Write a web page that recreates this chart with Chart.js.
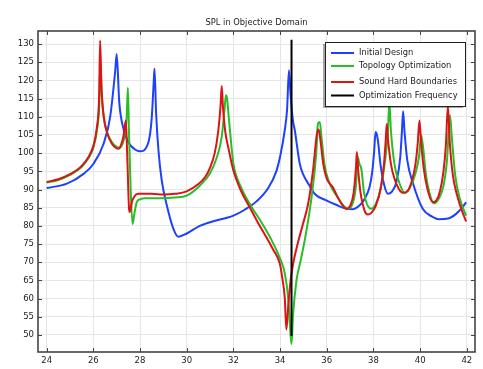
<!DOCTYPE html>
<html>
<head>
<meta charset="utf-8">
<script src="https://cdn.jsdelivr.net/npm/chart.js@4"></script>
<style>
  html, body { margin: 0; padding: 0; background: #ffffff; }
  #wrap { width: 483px; height: 369px; }
</style>
</head>
<body>
<div id="wrap"><canvas id="chart" width="483" height="369"></canvas></div>
<script>
const chartTitle = 'SPL in Objective Domain';
const seriesNames = ['Initial Design', 'Topology Optimization', 'Sound Hard Boundaries', 'Optimization Frequency'];
const seriesColors = ['rgb(30, 64, 255)', 'rgb(40, 190, 40)', 'rgb(220, 20, 20)', 'rgb(0, 0, 0)'];
const xTicks = [24, 26, 28, 30, 32, 34, 36, 38, 40, 42];
const yTicks = [50, 55, 60, 65, 70, 75, 80, 85, 90, 95, 100, 105, 110, 115, 120, 125, 130];

// Initial Design
const initialX = [24.0, 24.87, 25.58, 26.01, 26.44, 26.72, 26.94, 27.0, 27.11, 27.29, 27.5, 27.79, 28.0, 28.36, 28.5, 28.58, 28.62,
  28.69, 28.79, 28.93, 29.15, 29.43, 29.65, 30.0, 30.5, 31.0, 32.0, 32.5, 33.0, 33.5, 33.85, 34.0, 34.2, 34.3, 34.38, 34.45,
  34.55, 34.63, 34.84, 35.0, 35.27, 35.5, 35.98, 36.4, 36.84, 37.1, 37.4, 37.6, 37.83, 37.95, 38.03, 38.09, 38.15, 38.2, 38.3,
  38.45, 38.62, 38.8, 39.0, 39.15, 39.22, 39.27, 39.33, 39.45, 39.68, 40.11, 40.5, 40.8, 41.2, 41.54, 41.8, 41.97];
const initialY = [90.4, 91.6, 94.3, 97.1, 102.6, 109.9, 122.8, 127.3, 114.1, 106.7, 103.0, 101.0, 100.5, 103.0, 109.5, 118.7, 123.3,
  110.9, 100.8, 92.5, 85.6, 79.2, 77.0, 77.9, 79.8, 81.0, 82.8, 84.5, 86.8, 90.5, 95.2, 99.0, 106.3, 112.0, 122.8, 116.0,
  109.0, 106.3, 97.2, 94.0, 91.0, 88.7, 87.0, 85.8, 84.7, 84.6, 85.6, 87.2, 90.6, 95.0, 100.5, 105.8, 105.0, 103.0, 97.0,
  91.5, 88.8, 89.5, 92.5, 99.0, 106.0, 111.5, 106.0, 98.0, 92.0, 84.7, 82.6, 81.8, 82.0, 83.3, 85.0, 86.5];

// Topology Optimization
const topologyX = [24.0, 24.5, 25.0, 25.5, 25.8, 26.0, 26.15, 26.25, 26.3, 26.36, 26.45, 26.6, 26.8, 27.0, 27.12, 27.25, 27.35,
  27.43, 27.48, 27.53, 27.6, 27.68, 27.75, 27.86, 28.0, 28.22, 28.8, 29.5, 30.0, 30.57, 31.0, 31.3, 31.5, 31.62, 31.68, 31.73,
  31.8, 31.9, 32.0, 32.3, 32.8, 33.2, 33.6, 34.0, 34.2, 34.35, 34.45, 34.49, 34.55, 34.7, 34.9, 35.13, 35.35, 35.55, 35.62, 35.7,
  35.78, 35.9, 36.1, 36.4, 36.9, 37.1, 37.25, 37.33, 37.4, 37.48, 37.6, 37.9, 38.1, 38.3, 38.5, 38.62, 38.68, 38.75, 38.9, 39.1,
  39.35, 39.6, 39.8, 39.95, 40.04, 40.12, 40.25, 40.4, 40.6, 40.8, 41.0, 41.15, 41.28, 41.35, 41.5, 41.7, 41.97];
const topologyY = [91.9, 92.6, 94.0, 96.2, 98.7, 101.5, 106.0, 113.0, 125.0, 116.0, 109.5, 105.5, 103.0, 101.7, 101.5, 102.5, 105.0,
  110.0, 118.0, 105.0, 90.0, 80.5, 83.0, 86.5, 87.3, 87.6, 87.6, 87.8, 88.3, 91.1, 94.5, 99.0, 104.5, 112.0, 115.9, 115.0,
  110.0, 103.0, 97.1, 91.0, 85.0, 81.0, 76.5, 71.0, 67.0, 60.0, 50.0, 47.5, 55.0, 64.9, 71.0, 78.7, 88.0, 100.0, 108.1, 108.6,
  104.0, 97.0, 92.0, 88.5, 84.7, 86.0, 91.0, 98.9, 97.0, 95.7, 89.0, 84.7, 86.0, 90.0, 98.0, 106.0, 114.0, 106.0, 97.0, 92.0,
  89.0, 91.0, 94.5, 99.0, 104.9, 102.0, 94.0, 89.0, 86.2, 87.5, 91.0, 98.0, 110.4, 105.0, 94.0, 87.5, 82.8];

// Sound Hard Boundaries
const hardX = [24.0, 24.5, 25.0, 25.5, 25.8, 26.0, 26.15, 26.25, 26.29, 26.35, 26.45, 26.6, 26.8, 27.0, 27.08, 27.2, 27.3, 27.39,
  27.45, 27.53, 27.56, 27.65, 27.75, 27.93, 28.5, 29.0, 29.5, 30.0, 30.5, 30.8, 31.0, 31.2, 31.35, 31.45, 31.5, 31.55, 31.65,
  31.8, 32.0, 32.3, 32.7, 33.0, 33.42, 33.7, 33.99, 34.1, 34.2, 34.27, 34.35, 34.45, 34.56, 34.75, 34.98, 35.2, 35.41, 35.58,
  35.65, 35.72, 35.85, 36.0, 36.26, 36.5, 36.84, 37.0, 37.15, 37.25, 37.29, 37.35, 37.45, 37.62, 37.76, 37.9, 38.1, 38.3, 38.45,
  38.53, 38.57, 38.62, 38.75, 38.9, 39.1, 39.26, 39.45, 39.65, 39.8, 39.9, 39.97, 40.04, 40.15, 40.3, 40.54, 40.7, 40.85, 41.0,
  41.1, 41.19, 41.27, 41.4, 41.6, 41.8, 41.97];
const hardY = [92.1, 92.8, 94.2, 96.5, 99.0, 102.0, 107.0, 116.0, 131.0, 118.0, 110.0, 105.5, 102.5, 101.3, 101.2, 102.5, 105.0, 109.0,
  100.0, 84.7, 83.8, 86.5, 88.0, 88.8, 88.8, 88.6, 88.8, 89.5, 91.5, 93.5, 96.0, 100.0, 106.0, 113.0, 118.5, 113.0, 106.0,
  101.0, 95.2, 90.0, 85.1, 81.5, 76.8, 73.5, 69.6, 65.5, 60.3, 51.5, 58.0, 65.0, 69.6, 75.0, 80.5, 86.0, 95.2, 105.4,
  106.5, 104.0, 97.0, 93.0, 90.6, 87.5, 84.7, 85.5, 89.0, 96.0, 100.3, 95.0, 89.0, 84.2, 83.1, 83.5, 85.5, 90.0, 97.0,
  104.0, 108.0, 104.0, 97.0, 93.0, 90.0, 89.1, 89.5, 92.5, 97.0, 103.0, 109.0, 103.0, 96.0, 90.5, 86.5, 87.0, 89.5, 95.0,
  102.0, 113.0, 103.0, 94.0, 88.0, 84.0, 81.2];

// Optimization Frequency marker
const markerX = [34.49, 34.49];
const markerY = [49.7, 131.2];

function toPoints(xs, ys) {
    return xs.map(function (x, i) { return { x: x, y: ys[i] }; });
}

const frame = {
    id: 'frame',
    afterDraw(chart) {
        const ctx = chart.ctx;
        const a = chart.chartArea;
        const xs = chart.scales.x;
        const ys = chart.scales.y;
        ctx.save();

        // title, centred over the plot area
        ctx.font = '8.3px "DejaVu Sans"';
        ctx.fillStyle = '#222222';
        ctx.textAlign = 'center';
        ctx.textBaseline = 'middle';
        ctx.fillText(chartTitle, (a.left + a.right) / 2, 23);

        ctx.strokeStyle = '#444444';
        ctx.lineWidth = 1;
        // tick marks pointing inwards, all four sides
        ctx.beginPath();
        xTicks.forEach(function (v) {
            const p = Math.round(xs.getPixelForValue(v)) + 0.5;
            ctx.moveTo(p, a.bottom); ctx.lineTo(p, a.bottom - 4);
            ctx.moveTo(p, a.top); ctx.lineTo(p, a.top + 4);
        });
        yTicks.forEach(function (v) {
            const p = Math.round(ys.getPixelForValue(v)) + 0.5;
            ctx.moveTo(a.left, p); ctx.lineTo(a.left + 4, p);
            ctx.moveTo(a.right, p); ctx.lineTo(a.right - 4, p);
        });
        ctx.stroke();
        ctx.lineWidth = 1.6;
        ctx.strokeRect(a.left, a.top, a.right - a.left, a.bottom - a.top);

        // legend box
        const bx = 325, by = 42, bw = 140, bh = 64;
        ctx.fillStyle = 'rgba(0,0,0,0.35)';
        ctx.fillRect(bx - 2, by + 2, bw, bh);
        ctx.fillStyle = '#ffffff';
        ctx.fillRect(bx, by, bw, bh);
        ctx.strokeStyle = '#222222';
        ctx.lineWidth = 1;
        ctx.strokeRect(bx + 0.5, by + 0.5, bw, bh);
        const rows = [53, 66, 82, 95.5];
        ctx.font = '8.3px "DejaVu Sans"';
        ctx.textAlign = 'left';
        seriesNames.forEach(function (name, i) {
            ctx.strokeStyle = seriesColors[i];
            ctx.lineWidth = 2;
            ctx.beginPath();
            ctx.moveTo(331, rows[i]);
            ctx.lineTo(354, rows[i]);
            ctx.stroke();
            ctx.fillStyle = '#222222';
            ctx.fillText(name, 359, rows[i]);
        });
        ctx.restore();
    }
};

const chartElement = document.getElementById('chart');
new Chart(chartElement, {
    type: 'line',
    data: {
        datasets: [
            { label: seriesNames[0], data: toPoints(initialX, initialY), borderColor: seriesColors[0], order: 3 },
            { label: seriesNames[1], data: toPoints(topologyX, topologyY), borderColor: seriesColors[1], order: 2 },
            { label: seriesNames[2], data: toPoints(hardX, hardY), borderColor: seriesColors[2], order: 1 },
            { label: seriesNames[3], data: toPoints(markerX, markerY), borderColor: seriesColors[3], order: 0 }
        ]
    },
    options: {
        responsive: false,
        animation: false,
        events: [],
        layout: { padding: { left: 0, right: 8, top: 31, bottom: 0 } },
        elements: {
            point: { radius: 0 },
            line: { borderWidth: 2, cubicInterpolationMode: 'monotone', fill: false }
        },
        plugins: {
            legend: { display: false },
            tooltip: { enabled: false },
            title: { display: false }
        },
        scales: {
            x: {
                type: 'linear',
                min: 23.63,
                max: 42.35,
                afterBuildTicks: function (scale) {
                    scale.ticks = xTicks.map(function (v) { return { value: v }; });
                },
                afterFit: function (scale) { scale.height = 17; },
                grid: { color: '#e6e6e6', lineWidth: 1, drawTicks: false },
                border: { display: false },
                ticks: {
                    color: '#222222',
                    padding: 4,
                    maxRotation: 0,
                    font: { family: 'DejaVu Sans', size: 8.5 }
                }
            },
            y: {
                type: 'linear',
                min: 45.3,
                max: 133.6,
                afterBuildTicks: function (scale) {
                    scale.ticks = yTicks.map(function (v) { return { value: v }; });
                },
                afterFit: function (scale) { scale.width = 38; },
                grid: { color: '#e6e6e6', lineWidth: 1, drawTicks: false },
                border: { display: false },
                ticks: {
                    color: '#222222',
                    padding: 4,
                    font: { family: 'DejaVu Sans', size: 8.5 }
                }
            }
        }
    },
    plugins: [frame]
});
</script>
</body>
</html>
